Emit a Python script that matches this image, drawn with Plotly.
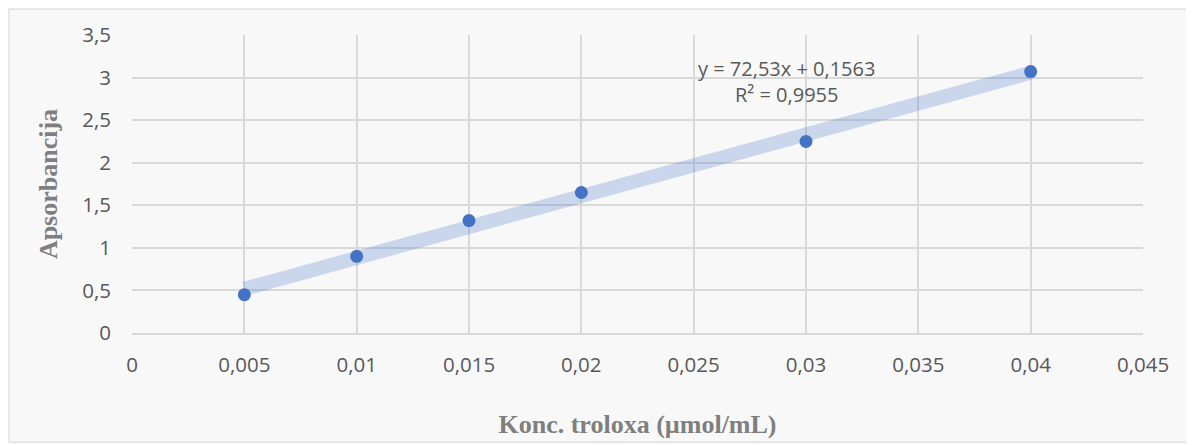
import numpy as np
import plotly.graph_objects as go

conc = [0.005, 0.01, 0.015, 0.02, 0.03, 0.04]
absorb = [0.45, 0.90, 1.32, 1.65, 2.25, 3.07]
slope = 72.53
intercept = 0.1563
r2 = 0.9955

x_title = "Konc. troloxa (µmol/mL)"
y_title = "Apsorbancija"
eq_text = "y = 72,53x + 0,1563<br>R² = 0,9955"

tx = np.array([min(conc), max(conc)])
ty = slope * tx + intercept

fig = go.Figure()
fig.add_trace(go.Scatter(x=tx, y=ty, mode="lines",
                         line=dict(color="rgba(68,114,196,0.26)", width=14),
                         hoverinfo="skip", showlegend=False))
fig.add_trace(go.Scatter(x=conc, y=absorb, mode="markers",
                         marker=dict(color="#4472C4", size=13),
                         showlegend=False))

fig.add_annotation(x=0.02915, y=2.95, xref="x", yref="y",
                   text=eq_text,
                   showarrow=False, align="center",
                   font=dict(family="Open Sans, Liberation Sans", size=20, color="#595959"))

fig.add_shape(type="rect", xref="paper", yref="paper", x0=-0.1217, x1=1.0435, y0=-0.366, y1=1.087,
              line=dict(color="#d9d9d9", width=1), layer="below")

tick_font = dict(family="Open Sans, Liberation Sans", size=20.5, color="#595959")
title_font = dict(family="Liberation Serif, Times New Roman", size=26, color="#7f7f7f")

fig.update_layout(
    width=1180, height=436,
    margin=dict(l=124, r=45, t=27, b=111),
    paper_bgcolor="#f8f8f8",
    plot_bgcolor="rgba(0,0,0,0)",
    separators=", ",
    xaxis=dict(range=[0, 0.045], dtick=0.005, tick0=0, showgrid=True, gridcolor="#d9d9d9",
               gridwidth=1.5, zeroline=False, showline=True, linecolor="#d9d9d9", linewidth=1.5,
               tickfont=tick_font, ticks="", ticklabelstandoff=13, automargin=False,
               title=dict(text="<b>" + x_title + "</b>", font=title_font, standoff=37)),
    yaxis=dict(range=[0, 3.5], dtick=0.5, tick0=0, showgrid=True, gridcolor="#d9d9d9",
               gridwidth=1.5, zeroline=False, showline=False, automargin=False,
               tickfont=tick_font, ticks="", ticklabelstandoff=20,
               title=dict(text="<b>" + y_title + "</b>", font=title_font, standoff=17)),
)

fig.write_html("out.html")
